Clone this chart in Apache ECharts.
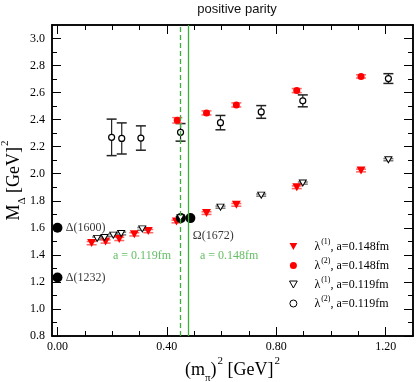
<!DOCTYPE html>
<html>
<head>
    <meta charset="utf-8">
    <script src="https://cdn.jsdelivr.net/npm/echarts@6/dist/echarts.min.js"></script>
</head>
<body style="margin:0">
<div id="main" style="width: 416px;height:382px;"></div>
<script type="text/javascript">
    // lambda(1), a=0.148fm (red down triangles)
    var l1aX = [0.125, 0.176, 0.226, 0.281, 0.332, 0.435, 0.545, 0.654, 0.875, 1.110];
    var l1aY = [1.487, 1.499, 1.518, 1.552, 1.576, 1.647, 1.709, 1.770, 1.900, 2.024];
    var l1aE = [0.012, 0.012, 0.012, 0.012, 0.012, 0.010, 0.010, 0.010, 0.010, 0.010];
    // lambda(2), a=0.148fm (red circles)
    var l2aX = [0.438, 0.545, 0.654, 0.875, 1.110];
    var l2aY = [2.395, 2.450, 2.509, 2.615, 2.720];
    var l2aE = [0.020, 0.015, 0.015, 0.015, 0.012];
    // lambda(1), a=0.119fm (open down triangles)
    var l1bX = [0.145, 0.172, 0.204, 0.233, 0.310, 0.450, 0.596, 0.745, 0.897, 1.210];
    var l1bY = [1.522, 1.528, 1.546, 1.558, 1.592, 1.675, 1.753, 1.842, 1.931, 2.104];
    var l1bE = [0.010, 0.010, 0.010, 0.010, 0.010, 0.008, 0.008, 0.008, 0.008, 0.008];
    // lambda(2), a=0.119fm (open circles)
    var l2bX = [0.198, 0.235, 0.305, 0.450, 0.596, 0.745, 0.897, 1.210];
    var l2bY = [2.269, 2.261, 2.264, 2.306, 2.378, 2.457, 2.539, 2.704];
    var l2bE = [0.135, 0.115, 0.090, 0.065, 0.053, 0.047, 0.044, 0.036];
    // experimental masses
    var physX = [0.0, 0.0, 0.451, 0.486];
    var physY = [1.232, 1.600, 1.672, 1.672];
    // lattice spacing lines
    var spacingX = [0.45, 0.485];
    // text annotations
    var annoText = ['\u0394(1600)', '\u0394(1232)', '\u03a9(1672)'];
    var annoX = [0.03, 0.03, 0.495];
    var annoY = [1.60, 1.232, 1.541];
    var greenText = ['a = 0.119fm', 'a = 0.148fm'];
    var greenX = [0.309, 0.628];
    var greenY = [1.392, 1.392];
    // ticks
    var xMajor = [0, 0.4, 0.8, 1.2];
    var xMinor = [0.1, 0.2, 0.3, 0.5, 0.6, 0.7, 0.9, 1.0, 1.1];
    var yMajor = [0.8, 1.0, 1.2, 1.4, 1.6, 1.8, 2.0, 2.2, 2.4, 2.6, 2.8, 3.0];
    var yMinor = [0.9, 1.1, 1.3, 1.5, 1.7, 1.9, 2.1, 2.3, 2.5, 2.7, 2.9];

    var serif = 'Liberation Serif';
    var green = '#3cae3c';
    var downTri = 'path://M0,0 L10,0 L5,9 Z';

    function pts(xs, ys) {
        return xs.map(function (x, i) { return [x, ys[i]]; });
    }
    function bars(xs, ys, es) {
        return xs.map(function (x, i) { return [x, ys[i] - es[i], ys[i] + es[i]]; });
    }
    function errorBar(color, capColor, cap) {
        return function (params, api) {
            var x = api.value(0);
            var lo = api.coord([x, api.value(1)]);
            var hi = api.coord([x, api.value(2)]);
            return {
                type: 'group',
                children: [
                    {type: 'line', shape: {x1: lo[0], y1: lo[1], x2: hi[0], y2: hi[1]}, style: {stroke: color, lineWidth: 1.2}},
                    {type: 'line', shape: {x1: hi[0] - cap, y1: hi[1], x2: hi[0] + cap, y2: hi[1]}, style: {stroke: capColor, lineWidth: 1.5}},
                    {type: 'line', shape: {x1: lo[0] - cap, y1: lo[1], x2: lo[0] + cap, y2: lo[1]}, style: {stroke: capColor, lineWidth: 1.5}}
                ]
            };
        };
    }
    function errSeries(data, color, capColor, cap) {
        return {
            type: 'custom', renderItem: errorBar(color, capColor, cap), data: data,
            encode: {x: 0, y: [1, 2]}, z: 2, silent: true
        };
    }
    function xAx(pos, ticks, len, labels) {
        return {
            type: 'value', position: pos, min: -0.02, max: 1.30,
            axisLine: {show: true, onZero: false, lineStyle: {color: '#000', width: 1.5}},
            axisTick: {inside: true, length: len, customValues: ticks, lineStyle: {color: '#000', width: 1}},
            axisLabel: labels ? {customValues: xMajor, formatter: function (v) { return v.toFixed(2); },
                fontFamily: serif, fontSize: 12, color: '#000', margin: 5} : {show: false},
            splitLine: {show: false}
        };
    }
    function yAx(pos, ticks, len, labels) {
        return {
            type: 'value', position: pos, min: 0.8, max: 3.1,
            axisLine: {show: true, onZero: false, lineStyle: {color: '#000', width: 1.5}},
            axisTick: {inside: true, length: len, customValues: ticks, lineStyle: {color: '#000', width: 1}},
            axisLabel: labels ? {customValues: yMajor, formatter: function (v) { return v.toFixed(1); },
                fontFamily: serif, fontSize: 12, color: '#000', margin: 7} : {show: false},
            splitLine: {show: false}
        };
    }

    var rich = {
        n: {fontFamily: serif, fontSize: 18, color: '#000', padding: [0, 0, 5, 0], verticalAlign: 'bottom'},
        sub: {fontFamily: serif, fontSize: 11, color: '#000', padding: [0, 0, 0, 0], verticalAlign: 'bottom'},
        sup: {fontFamily: serif, fontSize: 11, color: '#000', padding: [0, 0, 17, 1], verticalAlign: 'bottom'}
    };
    var legendRich = {
        p: {width: 12},
        n: {fontFamily: serif, fontSize: 12, lineHeight: 13, color: '#000', verticalAlign: 'bottom'},
        sup: {fontFamily: serif, fontSize: 8, lineHeight: 8, color: '#000', padding: [0, 0, 7, 1], verticalAlign: 'bottom'}
    };
    var legendLabels = {
        'l1a': '{p|}{n|\u03bb}{sup|(1)}{n|, a=0.148fm}',
        'l2a': '{p|}{n|\u03bb}{sup|(2)}{n|, a=0.148fm}',
        'l1b': '{p|}{n|\u03bb}{sup|(1)}{n|, a=0.119fm}',
        'l2b': '{p|}{n|\u03bb}{sup|(2)}{n|, a=0.119fm}'
    };

    var myChart = echarts.init(document.getElementById('main'));

    option = {
        animation: false,
        backgroundColor: '#fff',
        title: {
            text: 'positive parity', left: 232, top: -2, textAlign: 'center',
            textStyle: {fontFamily: 'Liberation Sans', fontSize: 13, fontWeight: 'normal', color: '#111'}
        },
        grid: {left: 52, right: 3, top: 25, bottom: 46, outerBoundsMode: 'none'},
        legend: {
            data: [
                {name: 'l1a', icon: downTri},
                {name: 'l2a'},
                {name: 'l1b', icon: downTri, itemStyle: {borderWidth: 1}},
                {name: 'l2b', itemStyle: {borderWidth: 1}}
            ],
            orient: 'vertical', left: 289, top: 238, padding: 0,
            itemWidth: 8, itemHeight: 7, itemGap: 4,
            formatter: function (name) { return legendLabels[name]; },
            textStyle: {rich: legendRich}
        },
        xAxis: [
            Object.assign(xAx('bottom', xMajor, 9, true), {
                name: '{n|(m}{sub|\u03c0}{n|)}{sup|2}{n| [GeV]}{sup|2}',
                nameLocation: 'middle', nameGap: 20, nameMoveOverlap: false, nameTextStyle: {rich: rich}
            }),
            xAx('bottom', xMinor, 5, false),
            xAx('top', xMajor, 9, false),
            xAx('top', xMinor, 5, false)
        ],
        yAxis: [
            Object.assign(yAx('left', yMajor, 9, true), {
                name: '{n|M}{sub|\u0394}{n| [GeV]}{sup|2}',
                nameLocation: 'middle', nameGap: 24, nameMoveOverlap: false, nameTextStyle: {rich: rich}
            }),
            yAx('left', yMinor, 5, false),
            yAx('right', yMajor, 9, false),
            yAx('right', yMinor, 5, false)
        ],
        series: [
            errSeries(bars(l2bX, l2bY, l2bE), '#222', '#222', 5),
            errSeries(bars(l1bX, l1bY, l1bE), '#555', '#777', 5),
            errSeries(bars(l2aX, l2aY, l2aE), '#f00', '#f66', 5),
            errSeries(bars(l1aX, l1aY, l1aE), '#f00', '#f66', 5),
            {
                name: 'l1a', type: 'scatter', data: pts(l1aX, l1aY), symbol: 'triangle', symbolRotate: 180,
                symbolSize: [9, 8], itemStyle: {color: '#f00', opacity: 1}, z: 3
            },
            {
                name: 'l2a', type: 'scatter', data: pts(l2aX, l2aY), symbol: 'circle',
                symbolSize: 7, itemStyle: {color: '#f00', opacity: 1}, z: 3
            },
            {
                name: 'l1b', type: 'scatter', data: pts(l1bX, l1bY), symbol: 'triangle', symbolRotate: 180,
                symbolSize: [7, 6], itemStyle: {color: '#fff', borderColor: '#000', borderWidth: 1, opacity: 1}, z: 4
            },
            {
                name: 'l2b', type: 'scatter', data: pts(l2bX, l2bY), symbol: 'circle',
                symbolSize: 6, itemStyle: {color: '#fff', borderColor: '#000', borderWidth: 1.2, opacity: 1}, z: 4
            },
            {
                name: 'phys', type: 'scatter', data: pts(physX, physY), symbol: 'circle',
                symbolSize: 10, itemStyle: {color: '#000', opacity: 1}, z: 3,
                markLine: {
                    silent: true, symbol: 'none', label: {show: false},
                    data: [
                        {xAxis: spacingX[0], lineStyle: {color: green, type: [5, 3], width: 1.3}},
                        {xAxis: spacingX[1], lineStyle: {color: green, type: 'solid', width: 1.3}}
                    ]
                }
            },
            {
                name: 'anno', type: 'scatter', symbolSize: 0, silent: true,
                data: annoX.map(function (x, i) { return {value: [x, annoY[i]], name: annoText[i]}; }),
                label: {show: true, position: 'right', distance: 0, formatter: '{b}',
                    fontFamily: serif, fontSize: 12, color: '#000'}
            },
            {
                name: 'green', type: 'scatter', symbolSize: 0, silent: true,
                data: greenX.map(function (x, i) { return {value: [x, greenY[i]], name: greenText[i]}; }),
                label: {show: true, position: 'inside', formatter: '{b}',
                    fontFamily: serif, fontSize: 12, color: green}
            }
        ]
    };

    myChart.setOption(option);
</script>
</body>
</html>
